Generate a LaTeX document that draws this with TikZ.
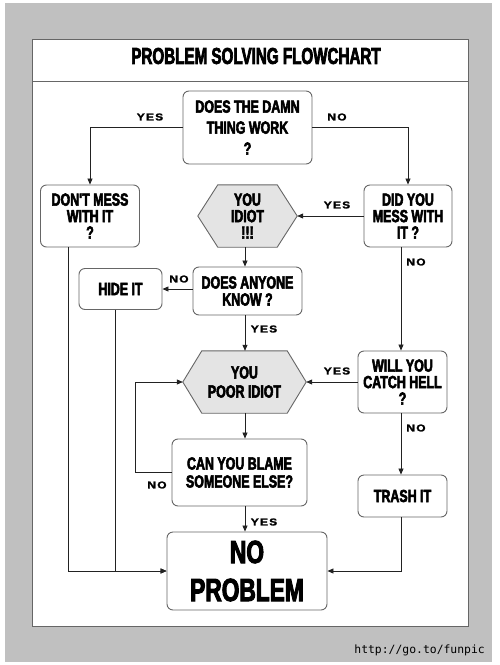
\documentclass[tikz,border=0pt]{standalone}
\usepackage{fontspec}
\usetikzlibrary{arrows.meta,backgrounds}
\newfontfamily\imp{Liberation Sans}[FakeStretch=0.71,BoldFeatures={FakeBold=3}]
\newfontfamily\impt{Liberation Sans}[FakeStretch=0.66,BoldFeatures={FakeBold=3}]
\newfontfamily\lab{Liberation Sans}[FakeStretch=1.2,LetterSpace=12,BoldFeatures={FakeBold=1.5}]
\newfontfamily\wm{DejaVu Sans Mono}
\definecolor{outergrey}{HTML}{C0C0C0}
\definecolor{hexgrey}{HTML}{E4E4E4}
\definecolor{boxline}{HTML}{666666}
\definecolor{conline}{HTML}{222222}
\tikzset{
  lsp/.style={font=\imp\bfseries\fontsize{17.5}{#1}\selectfont},
  box/.style={draw=boxline,line width=0.9pt,rounded corners=6pt,fill=white,align=center,
    lsp=16.5,inner sep=0pt},
  hexnode/.style={align=center,lsp=16.5,inner sep=0pt},
  hexshape/.style={draw=boxline,line width=0.9pt,fill=hexgrey},
  conn/.style={draw=conline,line width=0.8pt,-{Triangle[length=6pt,width=5pt]}},
  lbl/.style={font=\lab\bfseries\fontsize{10}{12}\selectfont,inner sep=0pt}
}
\begin{document}
\begin{tikzpicture}[x=1pt,y=-1pt]
\useasboundingbox (0,0) rectangle (500,665);

% coordinates for connector columns
\coordinate (spine) at (245,0);
\coordinate (rx) at (401,0);
\coordinate (lx1) at (68,0);
\coordinate (lx2) at (115,0);
\coordinate (loopx) at (135,0);

\node[font=\impt\bfseries\fontsize{23}{26}\selectfont,inner sep=0pt] (title) at (256,56) {PROBLEM SOLVING FLOWCHART};

% nodes
\node[box,lsp=21,minimum width=129pt,minimum height=73pt] (q1) at (247.5,127.5) {DOES THE DAMN\\THING WORK\\?};
\node[box,minimum width=99pt,minimum height=62pt] (dont) at (90,216) {DON'T MESS\\WITH IT\\?};
\node[box,minimum width=88pt,minimum height=62pt] (did) at (408,216) {DID YOU\\MESS WITH\\IT ?};
\node[hexnode,minimum width=99pt,minimum height=62pt] (idiot) at (247.5,216) {YOU\\IDIOT\\!!!};
\node[box,lsp=17,minimum width=109pt,minimum height=48pt] (anyone) at (247.5,291) {DOES ANYONE\\KNOW ?};
\node[box,minimum width=83pt,minimum height=41pt] (hide) at (120.5,289) {HIDE IT};
\node[hexnode,lsp=19,minimum width=123pt,minimum height=62pt] (poor) at (244.5,382) {YOU\\POOR IDIOT};
\node[box,minimum width=89pt,minimum height=62pt] (will) at (402.5,382) {WILL YOU\\CATCH HELL\\?};
\node[box,minimum width=89pt,minimum height=42pt] (trash) at (402.5,496) {TRASH IT};
\node[box,lsp=18,minimum width=135pt,minimum height=67pt] (blame) at (239.5,472.5) {CAN YOU BLAME\\SOMEONE ELSE?};
\node[box,minimum width=160pt,minimum height=78pt,font=\imp\bfseries\fontsize{32}{38}\selectfont] (noprob) at (247,571) {NO\\PROBLEM};
\node[font=\wm\fontsize{11.4}{13}\selectfont,anchor=east,inner sep=0pt] (url) at (485,650) {http://go.to/funpic};

\begin{scope}[on background layer]
\fill[white] (0,0) rectangle (500,665);
\fill[outergrey] (5,3) rectangle (492,662);
\draw[fill=white,draw=boxline,line width=0.9pt] (32,39) rectangle (468,626);
\draw[boxline,line width=0.9pt] (32,81) -- (468,81);
\path[hexshape] ([xshift=20pt]idiot.north west) -- ([xshift=-20pt]idiot.north east) -- (idiot.east)
  -- ([xshift=-20pt]idiot.south east) -- ([xshift=20pt]idiot.south west) -- (idiot.west) -- cycle;
\path[hexshape] ([xshift=19pt]poor.north west) -- ([xshift=-19pt]poor.north east) -- (poor.east)
  -- ([xshift=-19pt]poor.south east) -- ([xshift=19pt]poor.south west) -- (poor.west) -- cycle;
\end{scope}

% connectors
\draw[conn] (q1.west) -| (dont.north);
\draw[conn] (q1.east) -| (did.north);
\draw[conn] (did.west) -- (idiot.east);
\draw[conn] (idiot.south -| spine) -- (anyone.north -| spine);
\draw[conn] (hide.east -| anyone.west) -- (hide.east);
\draw[conn] (anyone.south -| spine) -- (poor.north -| spine);
\draw[conn] (did.south -| rx) -- (will.north -| rx);
\draw[conn] (will.west) -- (poor.east);
\draw[conn] (poor.south -| spine) -- (blame.north -| spine);
\draw[conn] (will.south -| rx) -- (trash.north -| rx);
\draw[conn] (blame.west) -- (blame.west -| loopx) |- (poor.west);
\draw[conn] (blame.south -| spine) -- (noprob.north -| spine);
\draw[conn] (dont.south -| lx1) |- (noprob.west);
\draw[conn] (hide.south -| lx2) |- (noprob.west);
\draw[conn] (trash.south -| rx) |- (noprob.east);

% labels
\node[lbl] (l1) at (150,117) {YES};
\node[lbl] (l2) at (337,117) {NO};
\node[lbl] (l3) at (337,205) {YES};
\node[lbl] (l4) at (179,279) {NO};
\node[lbl] (l5) at (416,262) {NO};
\node[lbl] (l6) at (264,329) {YES};
\node[lbl] (l7) at (337,371) {YES};
\node[lbl] (l8) at (416,428) {NO};
\node[lbl] (l9) at (157,485) {NO};
\node[lbl] (l10) at (264,522) {YES};
\end{tikzpicture}
\end{document}
